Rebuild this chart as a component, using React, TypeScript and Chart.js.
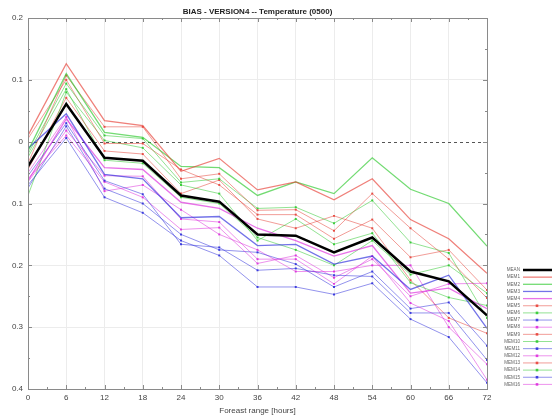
import { useEffect, useRef } from "react";
import { Chart, registerables } from "chart.js";

Chart.register(...registerables);

const chartTitle = "BIAS - VERSION4 -- Temperature (0500)";
const xTitle = "Foreast range [hours]";
const hours = [0, 6, 12, 18, 24, 30, 36, 42, 48, 54, 60, 66, 72];
const yMin = -0.4;
const yMax = 0.2;
const yStep = 0.1;

const seriesNames = [
  "MEAN", "MEM1", "MEM2", "MEM3", "MEM4", "MEM5", "MEM6", "MEM7", "MEM8",
  "MEM9", "MEM10", "MEM11", "MEM12", "MEM13", "MEM14", "MEM15", "MEM16",
];

const mean = [-0.04, 0.061, -0.026, -0.031, -0.087, -0.097, -0.15, -0.152, -0.179, -0.155, -0.21, -0.226, -0.281];
const mem1 = [0.01, 0.126, 0.034, 0.026, -0.048, -0.027, -0.078, -0.065, -0.094, -0.06, -0.126, -0.157, -0.213];
const mem2 = [-0.015, 0.11, 0.015, 0.007, -0.04, -0.042, -0.087, -0.065, -0.084, -0.026, -0.077, -0.1, -0.169];
const mem3 = [-0.011, 0.045, -0.053, -0.06, -0.123, -0.121, -0.168, -0.166, -0.198, -0.185, -0.239, -0.216, -0.302];
const mem4 = [-0.063, 0.037, -0.042, -0.045, -0.098, -0.108, -0.14, -0.16, -0.185, -0.168, -0.245, -0.237, -0.27];
const mem5 = [-0.035, 0.107, 0.024, 0.024, -0.06, -0.052, -0.111, -0.11, -0.144, -0.084, -0.14, -0.19, -0.253];
const mem6 = [-0.02, 0.094, 0.01, 0.005, -0.066, -0.06, -0.108, -0.106, -0.132, -0.095, -0.163, -0.18, -0.285];
const mem7 = [-0.055, 0.03, -0.063, -0.085, -0.166, -0.171, -0.208, -0.205, -0.216, -0.218, -0.277, -0.277, -0.353];
const mem8 = [-0.065, 0.018, -0.055, -0.056, -0.125, -0.13, -0.19, -0.19, -0.23, -0.185, -0.261, -0.29, -0.385];
const mem9 = [0.005, 0.1, -0.003, -0.003, -0.045, -0.07, -0.118, -0.118, -0.157, -0.126, -0.187, -0.175, -0.24];
const mem10 = [-0.087, 0.08, 0.002, -0.01, -0.07, -0.084, -0.16, -0.125, -0.166, -0.148, -0.228, -0.252, -0.265];
const mem11 = [-0.07, 0.006, -0.09, -0.115, -0.16, -0.184, -0.235, -0.235, -0.247, -0.229, -0.287, -0.316, -0.39];
const mem12 = [-0.06, 0.01, -0.065, -0.09, -0.142, -0.139, -0.197, -0.184, -0.22, -0.19, -0.25, -0.23, -0.229];
const mem13 = [-0.045, 0.071, -0.015, -0.02, -0.084, -0.062, -0.125, -0.14, -0.12, -0.14, -0.224, -0.285, -0.31];
const mem14 = [-0.025, 0.085, -0.03, -0.035, -0.09, -0.1, -0.155, -0.175, -0.2, -0.16, -0.215, -0.2, -0.245];
const mem15 = [-0.075, 0.025, -0.076, -0.1, -0.15, -0.175, -0.179, -0.198, -0.235, -0.21, -0.27, -0.26, -0.33];
const mem16 = [-0.05, 0.04, -0.08, -0.07, -0.11, -0.15, -0.175, -0.21, -0.21, -0.2, -0.2, -0.3, -0.36];

const members = [mem1, mem2, mem3, mem4, mem5, mem6, mem7, mem8, mem9, mem10, mem11, mem12, mem13, mem14, mem15, mem16];

const hueRgb = ["230,60,50", "40,200,40", "40,40,220", "220,40,220"];

function memberStyle(i: number) {
  const rgb = hueRgb[i % 4];
  const strong = i < 4;
  return {
    line: `rgba(${rgb},${strong ? 0.65 : 0.5})`,
    point: `rgba(${rgb},0.85)`,
    width: strong ? 1.3 : 1,
    radius: strong ? 0 : 1.4,
  };
}

const decor = {
  id: "decor",
  beforeDatasetsDraw(chart: any) {
    const { ctx, chartArea: a, scales } = chart;
    const y0 = scales.y.getPixelForValue(0);
    ctx.save();
    ctx.strokeStyle = "#555";
    ctx.lineWidth = 1;
    ctx.setLineDash([3, 3]);
    ctx.beginPath();
    ctx.moveTo(a.left, Math.round(y0) + 0.5);
    ctx.lineTo(a.right, Math.round(y0) + 0.5);
    ctx.stroke();
    ctx.restore();
  },
  afterDraw(chart: any) {
    const { ctx, chartArea: a, scales } = chart;
    ctx.save();
    ctx.strokeStyle = "#8a8a8a";
    ctx.lineWidth = 1;
    ctx.strokeRect(Math.round(a.left) + 0.5, Math.round(a.top) + 0.5, Math.round(a.right - a.left), Math.round(a.bottom - a.top));
    ctx.beginPath();
    for (let h = 0; h <= 72; h += 3) {
      const x = Math.round(scales.x.getPixelForValue(h)) + 0.5;
      const len = h % 6 === 0 ? 4 : 2;
      ctx.moveTo(x, a.bottom);
      ctx.lineTo(x, a.bottom - len);
      ctx.moveTo(x, a.top);
      ctx.lineTo(x, a.top + len);
    }
    for (let k = 0; k <= 12; k++) {
      const v = yMin + k * 0.05;
      const y = Math.round(scales.y.getPixelForValue(v)) + 0.5;
      const len = k % 2 === 0 ? 4 : 2;
      ctx.moveTo(a.left, y);
      ctx.lineTo(a.left + len, y);
      ctx.moveTo(a.right, y);
      ctx.lineTo(a.right - len, y);
    }
    ctx.stroke();
    ctx.fillStyle = "#222";
    ctx.font = "bold 8px 'Liberation Sans', Arial, sans-serif";
    ctx.textAlign = "center";
    ctx.textBaseline = "middle";
    ctx.fillText(chartTitle, (a.left + a.right) / 2, 12);
    const top = 270;
    const gap = 7.15;
    ctx.font = "4.6px 'Liberation Sans', Arial, sans-serif";
    ctx.textAlign = "right";
    chart.data.datasets.forEach((ds: any, i: number) => {
      const y = top + i * gap;
      ctx.fillStyle = "#666";
      ctx.fillText(seriesNames[i], 520, y);
      ctx.strokeStyle = ds.borderColor;
      ctx.lineWidth = ds.borderWidth;
      ctx.beginPath();
      ctx.moveTo(523, y);
      ctx.lineTo(552, y);
      ctx.stroke();
      if (ds.pointRadius > 0) {
        ctx.fillStyle = ds.pointBackgroundColor;
        ctx.fillRect(537 - 1.3, y - 1.3, 2.6, 2.6);
      }
    });
    ctx.restore();
  },
};

export default function App() {
  const ref = useRef<HTMLCanvasElement | null>(null);
  useEffect(() => {
    if (!ref.current) return;
    const datasets: any[] = [
      {
        label: seriesNames[0],
        data: hours.map((h, j) => ({ x: h, y: mean[j] })),
        borderColor: "#000",
        backgroundColor: "#000",
        borderWidth: 2.5,
        pointRadius: 0,
        order: 0,
      },
      ...members.map((m, i) => {
        const s = memberStyle(i);
        return {
          label: seriesNames[i + 1],
          data: hours.map((h, j) => ({ x: h, y: m[j] })),
          borderColor: s.line,
          backgroundColor: s.point,
          pointBackgroundColor: s.point,
          pointBorderColor: s.point,
          pointBorderWidth: 0,
          pointStyle: "rect",
          borderWidth: s.width,
          pointRadius: s.radius,
          order: 1,
        };
      }),
    ];
    const chart = new Chart(ref.current, {
      type: "line",
      data: { datasets },
      plugins: [decor],
      options: {
        responsive: false,
        animation: false,
        layout: { padding: { top: 18, right: 67, bottom: 0, left: 0 } },
        plugins: { legend: { display: false }, title: { display: false }, tooltip: { enabled: false } },
        elements: { line: { tension: 0 } },
        scales: {
          x: {
            type: "linear",
            min: 0,
            max: 72,
            afterBuildTicks: (s: any) => {
              s.ticks = hours.map((h) => ({ value: h }));
            },
            afterFit: (s: any) => {
              s.height = 28;
            },
            ticks: {
              padding: 4,
              color: "#444",
              font: { family: "'Liberation Sans', Arial, sans-serif", size: 8 },
              maxRotation: 0,
              autoSkip: false,
            },
            grid: { color: "#ececec", drawTicks: false },
            border: { display: false },
            title: {
              display: true,
              text: xTitle,
              color: "#444",
              font: { family: "'Liberation Sans', Arial, sans-serif", size: 8 },
              padding: { top: 0, bottom: 1 },
            },
          },
          y: {
            type: "linear",
            min: yMin,
            max: yMax,
            afterBuildTicks: (s: any) => {
              const t = [];
              for (let k = 0; k <= 6; k++) t.push({ value: Math.round((yMin + k * yStep) * 10) / 10 });
              s.ticks = t;
            },
            afterFit: (s: any) => {
              s.width = 28;
            },
            ticks: {
              padding: 5,
              color: "#444",
              font: { family: "'Liberation Sans', Arial, sans-serif", size: 8 },
              callback: (v: any) => (Math.abs(v) < 1e-9 ? "0" : Math.abs(v).toFixed(1)),
            },
            grid: {
              color: (c: any) => (c.tick && Math.abs(c.tick.value) < 1e-9 ? "rgba(0,0,0,0)" : "#ececec"),
              drawTicks: false,
            },
            border: { display: false },
          },
        },
      },
    });
    return () => chart.destroy();
  }, []);
  return (
    <div style={{ position: "fixed", left: 0, top: 0, width: 554, height: 417, background: "#fff" }}>
      <canvas ref={ref} width={554} height={417} style={{ display: "block" }} />
    </div>
  );
}
